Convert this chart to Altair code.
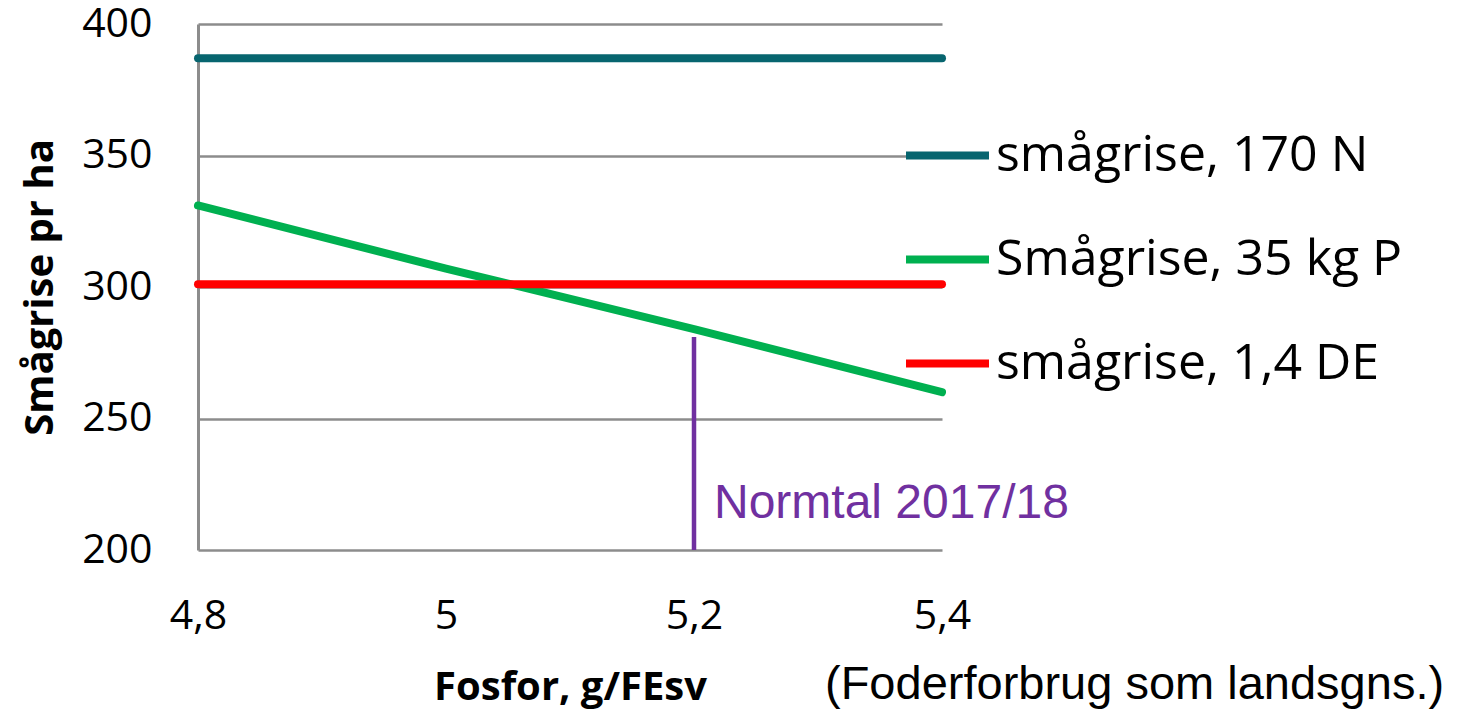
import altair as alt
import pandas as pd

# Data
x_vals = [4.8, 5.0, 5.2, 5.4]
series_names = ["smågrise, 170 N", "Smågrise, 35 kg P", "smågrise, 1,4 DE"]
n170 = [387, 387, 387, 387]
p35 = [331, 307, 284, 260]
de14 = [301, 301, 301, 301]
series_colors = ["#07656F", "#00B050", "#FF0000"]

normtal_x = [5.2]
normtal_low = [200]
normtal_high = [281]
normtal_label = ["Normtal 2017/18"]
normtal_label_y = [212]

y_ticks = [200, 250, 300, 350, 400]
x_ticks = [4.8, 5.0, 5.2, 5.4]

rows = []
for name, vals in zip(series_names, [n170, p35, de14]):
    for xv, yv in zip(x_vals, vals):
        rows.append({"x": xv, "y": yv, "serie": name})
df = pd.DataFrame(rows)

norm_df = pd.DataFrame({"x": normtal_x, "y": normtal_low, "y2": normtal_high,
                        "label": normtal_label, "ly": normtal_label_y})

FONT = "Open Sans"

xscale = alt.Scale(domain=[4.8, 5.4], nice=False, zero=False)
yscale = alt.Scale(domain=[200, 400], nice=False, zero=False)

lines = alt.Chart(df).mark_line(strokeWidth=8, strokeCap="round").encode(
    x=alt.X("x:Q", scale=xscale,
            axis=alt.Axis(values=x_ticks, title="Fosfor, g/FEsv", grid=False, domain=False,
                          ticks=False, labelFont=FONT, labelFontSize=41, labelColor="black",
                          labelPadding=46, titleFont=FONT, titleFontSize=40,
                          titleFontWeight="bold", titleColor="black", titlePadding=31,
                          labelFlush=False,
                          labelExpr="replace(toString(round(datum.value*10)/10), '.', ',')")),
    y=alt.Y("y:Q", scale=yscale,
            axis=alt.Axis(values=y_ticks, title="Smågrise pr ha", grid=True, gridColor="#8C8C8C",
                          gridWidth=2.5, domain=True, domainColor="#8C8C8C", domainWidth=3,
                          ticks=False, labelFont=FONT, labelFontSize=41, labelColor="black",
                          labelPadding=46, titleFont=FONT, titleFontSize=40,
                          titleFontWeight="bold", titleColor="black", titlePadding=21,
                          labelFlush=False)),
    color=alt.Color("serie:N",
                    scale=alt.Scale(domain=series_names, range=series_colors),
                    sort=series_names,
                    legend=alt.Legend(title=None, orient="none", legendX=704, legendY=86,
                                      symbolType="stroke", symbolSize=6889,
                                      symbolStrokeWidth=8, labelFont=FONT, labelFontSize=50,
                                      labelColor="black", labelOffset=3, rowPadding=33,
                                      labelLimit=600)),
    detail="serie:N",
)

rule = alt.Chart(norm_df).mark_rule(color="#7030A0", strokeWidth=4.5).encode(
    x="x:Q", y="y:Q", y2="y2:Q"
)

norm_text = alt.Chart(norm_df).mark_text(
    color="#7030A0", font="Liberation Sans", fontSize=48, align="left",
    baseline="alphabetic", dx=20
).encode(x="x:Q", y="ly:Q", text="label:N")

foot = alt.Chart(pd.DataFrame({"t": ["(Foderforbrug som landsgns.)"]})).mark_text(
    font="Liberation Sans", fontSize=47, align="left", baseline="alphabetic", color="black"
).encode(x=alt.value(627), y=alt.value(675), text="t:N")

chart = alt.layer(lines, rule, norm_text, foot).properties(
    width=744, height=526,
    autosize=alt.AutoSizeParams(type="none"),
    padding={"left": 190, "top": 16, "right": 509, "bottom": 164},
    background="white",
).configure_view(stroke=None)

chart.save("out.html", embed_options={"renderer": "svg", "actions": False})
